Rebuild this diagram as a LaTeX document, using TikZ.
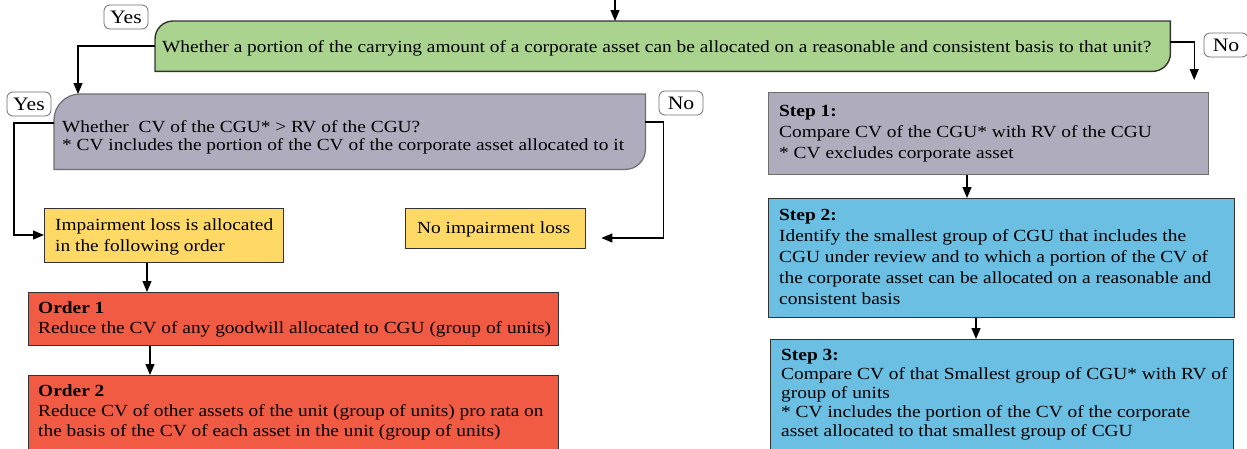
\documentclass[tikz,border=0pt]{standalone}
\usepackage{fontspec}
\setmainfont{Liberation Serif}[FakeStretch=1.14]
\usetikzlibrary{arrows.meta,calc}

\definecolor{qgreen}{HTML}{A9D38E}
\definecolor{qgray}{HTML}{AFADBD}
\definecolor{qyellow}{HTML}{FFD966}
\definecolor{qred}{HTML}{F15B43}
\definecolor{qblue}{HTML}{6BBFE3}
\definecolor{qedge}{HTML}{333333}
\definecolor{qgrayedge}{HTML}{6E6E6E}

\tikzset{
  every node/.style={font=\fontsize{17}{21}\selectfont},
  frame/.style={rectangle, inner sep=0pt, anchor=north west},
  boxy/.style={frame, draw=qedge, line width=1.4pt},
  txt/.style={anchor=north west, inner sep=0pt, align=left},
  tag/.style={draw=qgrayedge, fill=white, rounded corners=6pt, line width=0.8pt,
              minimum width=44pt, minimum height=24pt, inner sep=0pt,
              font=\fontsize{19}{21}\selectfont},
  link/.style={draw=black, line width=1.2pt},
  arr/.style={link, -{Triangle[length=11pt,width=9pt]}},
}

\begin{document}
\begin{tikzpicture}[x=1pt,y=-1pt]
\useasboundingbox (0,0) rectangle (1247,448);

% question: corporate asset allocation (green, two rounded corners)
\node[frame, minimum width=1015pt, minimum height=50pt] (q1) at (155,21) {};
\draw[fill=qgreen, draw=qedge, line width=1.4pt]
  (q1.south west) -- ([yshift=-18pt]q1.north west)
  arc[start angle=180, end angle=90, radius=18pt]
  -- (q1.north east) -- ([yshift=18pt]q1.south east)
  arc[start angle=0, end angle=-90, radius=18pt] -- cycle;
\node[txt] (q1t) at (162,40.5) {Whether a portion of the carrying amount of a corporate asset can be allocated on a reasonable and consistent basis to that unit?};

% question: CV vs RV (gray, two rounded corners)
\node[frame, minimum width=591pt, minimum height=75pt] (q2) at (54,94) {};
\draw[fill=qgray, draw=qgrayedge, line width=1.2pt]
  (q2.south west) -- ([yshift=-26pt]q2.north west)
  arc[start angle=180, end angle=90, radius=26pt]
  -- (q2.north east) -- ([yshift=20pt]q2.south east)
  arc[start angle=0, end angle=-90, radius=20pt] -- cycle;
\node[txt] (q2t) at (62,120.5) {Whether\ \ CV of the CGU* > RV of the CGU?\\[-3pt]* CV includes the portion of the CV of the corporate asset allocated to it};

% outcome boxes
\node[boxy, fill=qyellow, minimum width=239pt, minimum height=54pt] (y1) at (44,208) {};
\node[txt] (y1t) at (55,218.5) {Impairment loss is allocated\\in the following order};
\node[boxy, fill=qyellow, minimum width=180pt, minimum height=40pt] (y2) at (405,208) {};
\node[txt] (y2t) at (417,221.5) {No impairment loss};

\node[boxy, fill=qred, minimum width=530pt, minimum height=53pt] (o1) at (28,292) {};
\node[txt] (o1t) at (38,301.5) {\textbf{Order 1}\\[-1pt]Reduce the CV of any goodwill allocated to CGU (group of units)};
\node[boxy, fill=qred, minimum width=530pt, minimum height=80pt] (o2) at (28,375) {};
\node[txt] (o2t) at (38,384.5) {\textbf{Order 2}\\[-1pt]Reduce CV of other assets of the unit (group of units) pro rata on\\[-1pt]the basis of the CV of each asset in the unit (group of units)};

% steps
\node[frame, draw=qgrayedge, line width=1.2pt, fill=qgray, minimum width=440pt, minimum height=82pt] (s1) at (768,92) {};
\node[txt] (s1t) at (779,105.5) {\textbf{Step 1:}\\Compare CV of the CGU* with RV of the CGU\\* CV excludes corporate asset};
\node[boxy, fill=qblue, minimum width=466pt, minimum height=119pt] (s2) at (768,198) {};
\node[txt] (s2t) at (779,209.5) {\textbf{Step 2:}\\Identify the smallest group of CGU that includes the\\CGU under review and to which a portion of the CV of\\the corporate asset can be allocated on a reasonable and\\consistent basis};
\node[boxy, fill=qblue, minimum width=463pt, minimum height=115pt] (s3) at (770,339) {};
\node[txt] (s3t) at (781,349.5) {\textbf{Step 3:}\\[-2pt]Compare CV of that Smallest group of CGU* with RV of\\[-2pt]group of units\\[-2pt]* CV includes the portion of the CV of the corporate\\[-2pt]asset allocated to that smallest group of CGU};

% branch tags
\node[tag] (yes1) at (126,17) {Yes};
\node[tag] (no1) at (1226,45) {No};
\node[tag] (yes2) at (29,104) {Yes};
\node[tag] (no2) at (681,103) {No};

% connectors
\coordinate (top) at (615,0);
\draw[arr] (top) -- (top |- q1.north);
\draw[arr] ([yshift=-25pt]q1.north west) -| ([xshift=24pt]q2.north west);
\draw[arr] ([yshift=-21pt]q1.north east) -| ($(s1.north east)+(-15,-12)$);
\draw[arr] ([yshift=-29pt]q2.north west) -- ++(-40,0) |- ([yshift=-27pt]y1.north west);
\draw[arr] ([yshift=-28pt]q2.north east) -- ++(18,0) |- ([xshift=15pt,yshift=-30pt]y2.north east);
\draw[arr] ([xshift=103pt]y1.south west) -- ([xshift=119pt]o1.north west);
\draw[arr] ([xshift=122pt]o1.south west) -- ([xshift=122pt]o2.north west);
\draw[arr] ([xshift=199pt]s1.south west) -- ([xshift=199pt]s2.north west);
\draw[arr] ([xshift=208pt]s2.south west) -- ([xshift=206pt]s3.north west);
\end{tikzpicture}
\end{document}
